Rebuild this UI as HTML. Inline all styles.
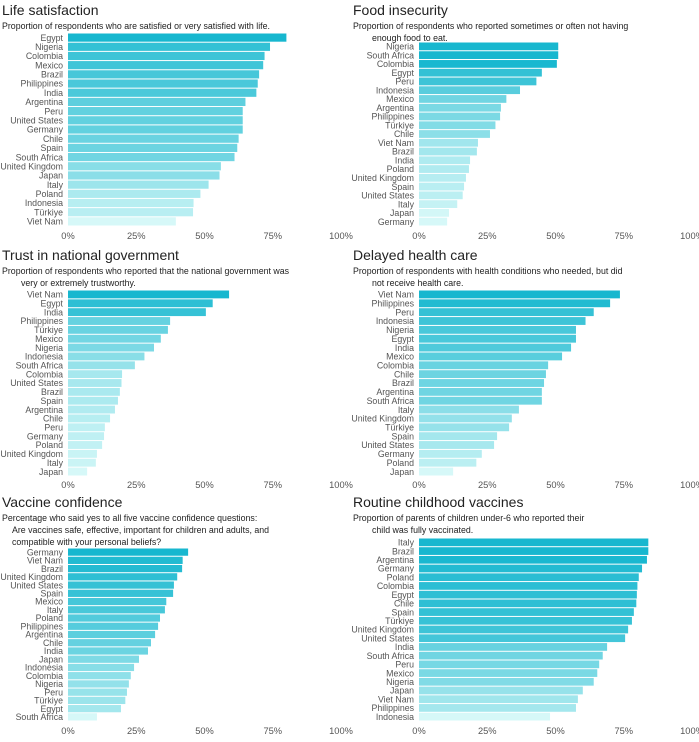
<!DOCTYPE html>
<html><head><meta charset="utf-8">
<style>
body{margin:0;background:#fff;font-family:"Liberation Sans",sans-serif;}
svg text{font-family:"Liberation Sans",sans-serif;}
</style></head>
<body>
<svg id="chart" width="699" height="737" xmlns="http://www.w3.org/2000/svg"></svg>
<script>
const lifeCats=["Egypt","Nigeria","Colombia","Mexico","Brazil","Philippines","India","Argentina","Peru","United States","Germany","Chile","Spain","South Africa","United Kingdom","Japan","Italy","Poland","Indonesia","Türkiye","Viet Nam"];
const lifeVals=[80,74,72,71.5,70,69.5,69,65,64,64,64,62.5,62,61,56,55.5,51.5,48.5,46,45.8,39.5];
const foodCats=["Nigeria","South Africa","Colombia","Egypt","Peru","Indonesia","Mexico","Argentina","Philippines","Türkiye","Chile","Viet Nam","Brazil","India","Poland","United Kingdom","Spain","United States","Italy","Japan","Germany"];
const foodVals=[51,51,50.5,45,43,37,32,30,29.7,28,26,21.6,21.2,18.7,18.3,17.2,16.5,16,14,11,10.3];
const trustCats=["Viet Nam","Egypt","India","Philippines","Türkiye","Mexico","Nigeria","Indonesia","South Africa","Colombia","United States","Brazil","Spain","Argentina","Chile","Peru","Germany","Poland","United Kingdom","Italy","Japan"];
const trustVals=[59,53,50.5,37.4,36.6,34,31.5,28,24.5,19.8,19.6,19,18.3,17.2,15.4,13.5,13.2,12.5,10.6,10.2,7];
const careCats=["Viet Nam","Philippines","Peru","Indonesia","Nigeria","Egypt","India","Mexico","Colombia","Chile","Brazil","Argentina","South Africa","Italy","United Kingdom","Türkiye","Spain","United States","Germany","Poland","Japan"];
const careVals=[73.6,70,64,61,57.5,57.5,55.7,52.4,47.3,46.5,45.8,45,45,36.6,34,33,28.6,27.5,23,21,12.5];
const vaxCats=["Germany","Viet Nam","Brazil","United Kingdom","United States","Spain","Mexico","Italy","Poland","Philippines","Argentina","Chile","India","Japan","Indonesia","Colombia","Nigeria","Peru","Türkiye","Egypt","South Africa"];
const vaxVals=[44,42,41.8,40,38.8,38.5,36,35.5,33.7,33,31.9,30.4,29.3,26,24.2,23,22.3,21.6,21,19.4,10.6];
const childCats=["Italy","Brazil","Argentina","Germany","Poland","Colombia","Egypt","Chile","Spain","Türkiye","United Kingdom","United States","India","South Africa","Peru","Mexico","Nigeria","Japan","Viet Nam","Philippines","Indonesia"];
const childVals=[84,84,83.5,81.7,80.5,80,79.8,79.6,78.7,78,76.6,75.5,68.9,67.3,66,65.3,64,60,58.2,57.5,48];
const ticks=["0%","25%","50%","75%","100%"];
const tickVals=[0,25,50,75,100];

const NS="http://www.w3.org/2000/svg";
const svg=document.getElementById('chart');
function mk(tag,attrs,parent){const e=document.createElementNS(NS,tag);for(const k in attrs)e.setAttribute(k,attrs[k]);(parent||svg).appendChild(e);return e;}
function lerp(a,b,t){return Math.round(a+(b-a)*t);}
function col(t){const lo=[214,248,248],hi=[23,183,207];return `rgb(${lerp(lo[0],hi[0],t)},${lerp(lo[1],hi[1],t)},${lerp(lo[2],hi[2],t)})`;}

const panels=[
 {id:"life-satisfaction",x0:68,title:"Life satisfaction",sub:["Proportion of respondents who are satisfied or very satisfied with life."],ty:15,top:33,bot:226,ax:239,cats:lifeCats,vals:lifeVals},
 {id:"food-insecurity",x0:419,title:"Food insecurity",sub:["Proportion of respondents who reported sometimes or often not having","enough food to eat."],ty:15,top:42,bot:226,ax:239,cats:foodCats,vals:foodVals},
 {id:"trust-government",x0:68,title:"Trust in national government",sub:["Proportion of respondents who reported that the national government was","very or extremely trustworthy."],ty:260,top:290,bot:476,ax:488,cats:trustCats,vals:trustVals},
 {id:"delayed-health-care",x0:419,title:"Delayed health care",sub:["Proportion of respondents with health conditions who needed, but did","not receive health care."],ty:260,top:290,bot:476,ax:488,cats:careCats,vals:careVals},
 {id:"vaccine-confidence",x0:68,title:"Vaccine confidence",sub:["Percentage who said yes to all five vaccine confidence questions:","Are vaccines safe, effective, important for children and adults, and","compatible with your personal beliefs?"],ty:507,top:548,bot:721,ax:734,cats:vaxCats,vals:vaxVals},
 {id:"routine-childhood-vaccines",x0:419,title:"Routine childhood vaccines",sub:["Proportion of parents of children under-6 who reported their","child was fully vaccinated."],ty:507,top:538,bot:721,ax:734,cats:childCats,vals:childVals}
];
const W=273;
panels.forEach(p=>{
  const g=mk('g',{});
  
  
  const tx=p.x0-66;
  const t=mk('text',{x:tx,y:p.ty,'font-size':14,fill:'#222'},g);t.textContent=p.title;
  
  p.sub.forEach((s,i)=>{const st=mk('text',{x:tx+(i>0?(p.sub.length>2?10:19):0),y:p.ty+14+i*12,'font-size':8.8,fill:'#222'},g);st.textContent=s;
    });
  const n=p.cats.length,band=(p.bot-p.top)/n;
  const mx=Math.max(...p.vals),mn=Math.min(...p.vals);
  const xs=v=>p.x0+v/100*W;
  p.cats.forEach((c,i)=>{
    const y=p.top+i*band,v=p.vals[i];
    const r=mk('rect',{x:p.x0,y:y+0.5,width:xs(v)-p.x0,height:band-1,fill:col((v-mn)/(mx-mn))},g);
    
    
    const l=mk('text',{x:p.x0-5,y:y+band/2+3.2,'font-size':8.8,fill:'#555','text-anchor':'end'},g);l.textContent=c;
    
  });
  tickVals.forEach((tv,i)=>{
    const tt=mk('text',{x:xs(tv),y:p.ax,'font-size':9.3,fill:'#555','text-anchor':'middle'},g);tt.textContent=ticks[i];
    
  });
});
</script>
</body></html>
